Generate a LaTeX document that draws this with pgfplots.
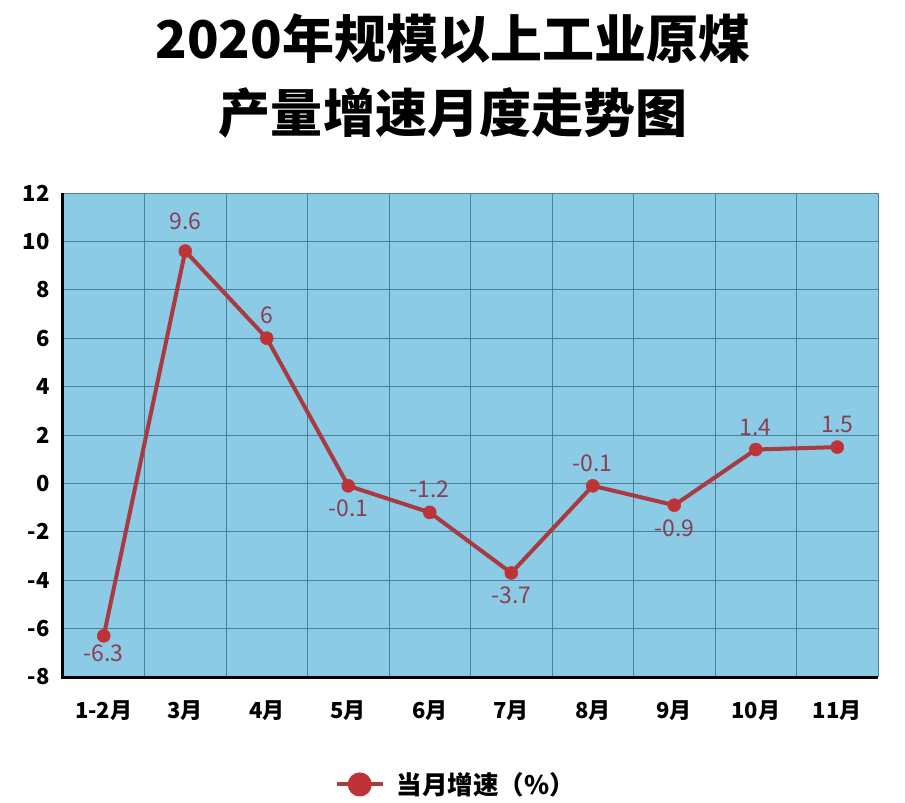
\documentclass[border=0pt]{standalone}
\usepackage{fontspec}
\setmainfont{Noto Sans CJK SC}
\usepackage{pgfplots}
\usepackage{pgfplotstable}
\pgfplotsset{compat=1.18}
\definecolor{bgblue}{HTML}{8BCBE5}
\definecolor{gridc}{HTML}{4C8099}
\definecolor{linec}{HTML}{A83A40}
\definecolor{markc}{HTML}{BD3338}
\definecolor{lblc}{HTML}{8C3E52}
\pgfplotstableread{
x y
0 -6.3
1 9.6
2 6
3 -0.1
4 -1.2
5 -3.7
6 -0.1
7 -0.9
8 1.4
9 1.5
}\datatable
\begin{document}
\begin{tikzpicture}[x=1bp,y=1bp]
\path[use as bounding box] (-63,-126) rectangle (842,677);
\begin{axis}[at={(0,0)}, anchor=south west, scale only axis, width=815bp, height=484bp,
 xmin=-0.5, xmax=9.5, ymin=-8, ymax=12, clip=false,
 axis background/.style={fill=bgblue},
 axis x line*=bottom, axis y line*=left,
 axis line style={draw=none},
 xtick={0,...,9}, xticklabels={1-2月,3月,4月,5月,6月,7月,8月,9月,10月,11月},
 minor xtick={-0.5,0.5,...,9.5}, xminorgrids, ytick={-8,-6,...,12}, ymajorgrids,
 grid style={gridc, line width=0.8bp},
 minor grid style={gridc, line width=0.8bp},
 major tick length=0, minor tick length=0,
 /pgf/number format/assume math mode=true,
 tick label style={font=\fontsize{22bp}{26bp}\selectfont\bfseries},
 xticklabel style={anchor=north, yshift=-20bp},
 yticklabel style={anchor=east, xshift=-10bp},
 legend style={at={(0.482,-0.222)}, anchor=center, draw=none, fill=none,
   font=\fontsize{25.5bp}{30bp}\selectfont\bfseries},
 legend image code/.code={\draw[linec, line width=4bp] (0bp,0bp) -- (46bp,0bp); \fill[markc] (23bp,0bp) circle (10bp); \path (56bp,0bp);},
 lbl/.style={nodes near coords, point meta=explicit symbolic, mark=none, draw=none,
   nodes near coords style={inner ysep=9bp, font=\fontsize{23bp}{26bp}\selectfont, text=lblc}},
]
\addplot[linec, line width=4bp, mark=*, mark size=6.5bp, mark options={fill=markc, draw=markc, line width=0.5bp}]
  table[x=x,y=y] {\datatable};
\addlegendentry{当月增速（\%）}
\addplot[lbl, forget plot, nodes near coords style={anchor=south, yshift=5bp}] coordinates {
 (2,6) [6] (4,-1.2) [-1.2] (6,-0.1) [-0.1] (8,1.4) [1.4] (9,1.5) [1.5]};
\addplot[lbl, forget plot, nodes near coords style={anchor=south, yshift=12bp}] coordinates {
 (1,9.6) [9.6]};
\addplot[lbl, forget plot, nodes near coords style={anchor=north, yshift=-5bp}] coordinates {
 (3,-0.1) [-0.1] (5,-3.7) [-3.7] (7,-0.9) [-0.9]};
\addplot[lbl, forget plot, nodes near coords style={anchor=north, yshift=0bp}] coordinates {
 (0,-6.3) [-6.3]};
\draw[black, line width=3bp] (axis cs:-0.5,12) -- (axis cs:-0.5,-8) -- (axis cs:9.5,-8);
\end{axis}
\node[font=\fontsize{52bp}{60bp}\selectfont\bfseries] at (390,638) {2020年规模以上工业原煤};
\node[font=\fontsize{52bp}{60bp}\selectfont\bfseries] at (390,564) {产量增速月度走势图};
\end{tikzpicture}
\end{document}
